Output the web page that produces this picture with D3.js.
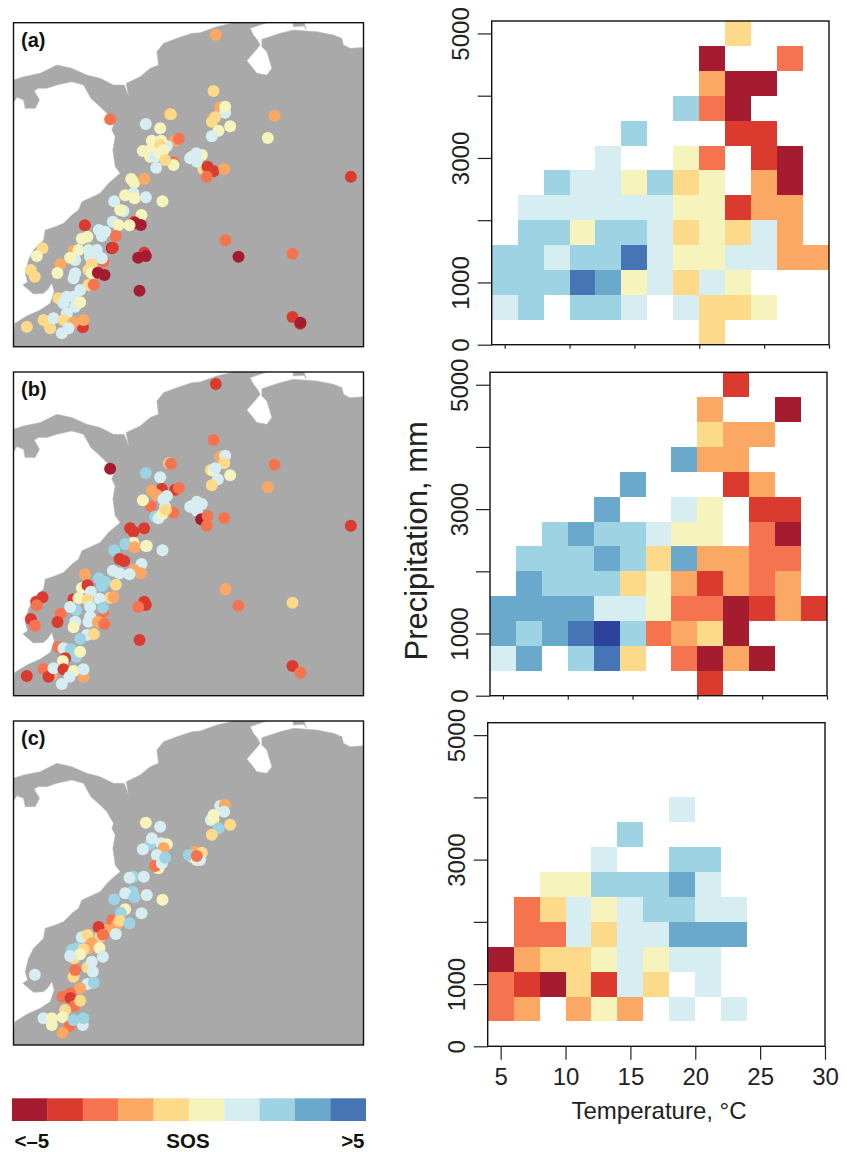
<!DOCTYPE html>
<html><head><meta charset="utf-8">
<script src="https://cdn.jsdelivr.net/npm/d3@7"></script>
<style>html,body{margin:0;padding:0;background:#fff}svg{display:block}text{font-family:"Liberation Sans",Arial,sans-serif;fill:#111}</style>
</head><body><svg id="c" width="847" height="1152"></svg>
<script>
// SOS classes, from earliest (<-5) to latest (>5); class 10 is the extra dark blue cell
const classColors=["#a51c30","#db3a2f","#f5744f","#fba864","#fdd98a","#f6f3bc","#d6eef2","#9dd3e3","#6aa8cc","#4575b4","#2c429c"];
const legendClasses=[0,1,2,3,4,5,6,7,8,9];
const tempEdges=[4,6,8,10,12,14,16,18,20,22,24,26,28,30];
const precipEdges=[0,400,800,1200,1600,2000,2400,2800,3200,3600,4000,4400,4800,5200];
const tempTicks=[5,10,15,20,25,30];
const precipTicks=[0,1000,2000,3000,4000,5000];
const precipLabels=[0,1000,3000,5000];
const _=null;
// rows run from lowest precipitation bin upward; columns from coolest bin rightward
const gridA=[
[_,_,_,_,_,_,_,_,4,_,_,_,_],
[6,7,_,7,7,6,_,6,4,4,5,_,_],
[7,7,7,9,8,5,6,4,6,5,_,_,_],
[7,7,6,7,7,9,6,5,5,6,6,3,3],
[_,7,7,5,7,7,6,4,5,4,6,3,_],
[_,6,6,6,6,6,6,5,5,1,3,3,_],
[_,_,7,6,6,5,7,4,5,_,3,0,_],
[_,_,_,_,6,_,_,5,2,_,1,0,_],
[_,_,_,_,_,7,_,_,_,1,1,_,_],
[_,_,_,_,_,_,_,7,2,0,_,_,_],
[_,_,_,_,_,_,_,_,3,0,0,_,_],
[_,_,_,_,_,_,_,_,0,_,_,2,_],
[_,_,_,_,_,_,_,_,_,4,_,_,_]];
const gridB=[
[_,_,_,_,_,_,_,_,1,_,_,_,_],
[6,8,_,7,9,4,_,2,0,3,0,_,_],
[8,7,8,9,10,7,2,3,4,0,_,_,_],
[8,8,8,8,6,6,5,2,2,0,1,3,1],
[_,8,7,7,7,4,5,3,1,3,2,3,_],
[_,7,7,7,8,7,4,8,3,3,2,2,_],
[_,_,7,8,7,7,6,5,5,_,2,0,_],
[_,_,_,_,8,_,_,6,5,_,1,1,_],
[_,_,_,_,_,8,_,_,_,1,3,_,_],
[_,_,_,_,_,_,_,8,3,3,_,_,_],
[_,_,_,_,_,_,_,_,4,3,3,_,_],
[_,_,_,_,_,_,_,_,3,_,_,0,_],
[_,_,_,_,_,_,_,_,_,1,_,_,_]];
const gridC=[
[_,_,_,_,_,_,_,_,_,_,_,_,_],
[2,3,_,3,5,3,_,6,_,6,_,_,_],
[2,1,0,4,1,6,4,_,6,_,_,_,_],
[0,3,4,4,5,6,5,6,6,_,_,_,_],
[_,2,2,6,4,6,6,8,8,8,_,_,_],
[_,2,4,6,5,6,7,7,6,6,_,_,_],
[_,_,5,5,7,7,7,8,6,_,_,_,_],
[_,_,_,_,6,_,_,7,7,_,_,_,_],
[_,_,_,_,_,7,_,_,_,_,_,_,_],
[_,_,_,_,_,_,_,6,_,_,_,_,_],
[_,_,_,_,_,_,_,_,_,_,_,_,_],
[_,_,_,_,_,_,_,_,_,_,_,_,_],
[_,_,_,_,_,_,_,_,_,_,_,_,_]];
// map positions are in map grid units; each record is [east, south, SOS class]
const landOutline=[[40,1012],[40,985],[44,940],[80,918],[120,900],[150,880],[162,845],[155,820],[143,838],[130,850],[100,852],[68,825],[82,815],[75,790],[85,750],[100,720],[130,690],[135,660],[165,650],[190,640],[215,615],[235,600],[245,575],[300,550],[325,520],[360,490],[345,470],[338,420],[345,380],[335,360],[340,345],[320,310],[300,290],[272,265],[250,225],[215,215],[170,225],[140,235],[115,235],[102,242],[118,270],[105,295],[75,295],[70,270],[50,262],[42,275],[40,210],[70,200],[120,190],[170,165],[215,175],[260,195],[300,205],[340,225],[372,225],[385,258],[378,220],[420,200],[450,175],[475,165],[470,125],[490,100],[530,85],[575,70],[600,68],[650,50],[700,38],[800,38],[750,55],[760,75],[772,90],[780,105],[772,115],[740,152],[755,170],[770,190],[800,195],[815,175],[800,125],[785,110],[785,88],[840,70],[880,60],[950,65],[1000,75],[1025,85],[1030,105],[1050,115],[1092,112],[1092,1012]];
const landIslet=[[878,38],[880,50],[912,48],[918,58],[912,38]];
const pointsA=[[647,74,3],[640,243,4],[508,312,3],[512,313,4],[330,328,2],[437,342,6],[480,355,5],[823,317,3],[803,384,5],[1052,500,1],[660,292,3],[675,308,6],[675,290,5],[640,325,3],[635,335,4],[645,322,4],[655,362,5],[690,349,5],[635,379,6],[525,392,3],[536,386,2],[500,408,6],[455,392,5],[483,392,5],[428,423,5],[480,405,4],[450,420,5],[450,440,5],[520,457,2],[520,465,5],[465,440,6],[468,473,6],[480,430,5],[490,420,5],[495,450,4],[575,440,5],[605,435,5],[610,478,4],[588,430,6],[570,445,6],[590,455,6],[622,470,1],[640,484,1],[620,500,2],[672,477,3],[393,507,5],[402,518,5],[432,507,3],[400,550,6],[375,556,5],[403,565,5],[437,562,6],[487,574,5],[342,574,6],[370,603,6],[360,600,5],[424,615,5],[402,636,1],[405,640,0],[422,645,0],[338,635,6],[355,645,5],[388,646,5],[254,646,1],[296,660,6],[315,665,6],[305,678,6],[347,678,2],[262,680,5],[245,686,5],[335,714,0],[338,713,1],[127,715,4],[110,738,5],[220,722,3],[235,720,5],[265,720,6],[290,720,6],[225,750,6],[210,743,5],[270,740,6],[310,755,2],[305,745,6],[432,728,1],[437,738,0],[414,743,0],[676,691,2],[715,740,0],[877,731,2],[181,763,3],[172,789,5],[92,780,4],[104,800,4],[275,762,4],[265,780,4],[275,790,5],[225,790,6],[220,805,6],[293,788,0],[313,795,0],[265,825,4],[281,824,2],[240,840,6],[418,842,0],[175,865,4],[200,860,6],[220,860,6],[190,880,6],[225,890,6],[240,877,5],[200,910,6],[130,930,4],[145,940,4],[150,955,4],[80,950,4],[160,925,6],[190,930,4],[248,952,1],[220,937,3],[250,930,3],[205,955,6],[185,970,6],[877,921,1],[900,941,1],[901,938,0]];
const pointsB=[[647,72,1],[640,240,2],[507,310,4],[512,311,2],[330,326,0],[437,339,7],[480,352,6],[823,314,2],[803,381,3],[1052,497,1],[660,290,3],[675,287,6],[672,310,4],[632,330,4],[640,332,5],[645,325,6],[653,358,6],[690,346,5],[635,376,4],[525,389,1],[536,384,2],[485,387,1],[455,392,3],[470,405,3],[452,438,2],[500,408,6],[428,421,5],[490,418,6],[465,470,7],[475,475,6],[520,458,2],[495,440,6],[487,462,5],[497,449,4],[575,438,6],[590,425,6],[605,432,6],[570,440,6],[590,452,6],[603,478,0],[622,468,2],[620,497,2],[672,474,2],[390,505,1],[400,515,1],[432,505,1],[400,548,5],[375,552,7],[403,562,3],[437,558,6],[440,558,5],[487,571,6],[342,571,7],[358,597,1],[372,603,1],[424,612,6],[402,630,3],[422,640,3],[338,632,6],[358,640,6],[388,643,6],[254,643,3],[296,655,7],[315,665,7],[305,678,7],[347,674,4],[245,684,5],[262,676,1],[330,713,4],[340,711,3],[108,725,1],[127,712,1],[110,736,2],[220,718,1],[235,715,5],[272,695,6],[262,720,4],[298,716,6],[228,750,7],[210,741,6],[270,740,6],[310,755,2],[308,743,7],[432,725,1],[437,735,1],[414,741,2],[676,688,3],[715,737,2],[877,728,4],[181,761,2],[172,786,1],[92,777,1],[104,797,2],[270,770,6],[265,785,6],[225,785,6],[220,802,5],[293,786,3],[313,792,2],[260,825,6],[281,822,4],[240,836,7],[418,840,1],[175,862,2],[190,865,6],[212,868,7],[228,890,7],[240,875,5],[195,895,1],[188,903,5],[130,927,2],[155,945,3],[145,950,1],[80,948,1],[160,925,6],[190,928,1],[250,950,3],[220,933,5],[250,928,6],[208,950,6],[185,972,6],[877,918,1],[901,938,2]];
const pointsC=[[437,338,5],[480,350,6],[660,288,6],[674,284,3],[672,305,6],[640,315,5],[632,330,6],[640,328,5],[655,355,7],[690,344,4],[635,374,4],[450,402,7],[455,385,6],[483,400,6],[500,403,5],[428,418,6],[490,414,3],[470,435,6],[475,475,5],[465,468,2],[485,460,6],[495,443,7],[585,425,3],[605,428,4],[575,440,6],[566,435,7],[590,450,5],[600,450,6],[590,438,2],[400,500,7],[388,503,6],[431,500,6],[397,545,7],[375,550,6],[403,562,7],[438,555,3],[440,555,6],[487,569,5],[342,568,7],[375,598,5],[362,608,7],[424,610,6],[336,631,2],[350,645,3],[358,632,4],[388,640,7],[320,660,3],[300,680,4],[295,651,1],[308,674,2],[347,672,6],[245,682,6],[262,675,4],[275,700,3],[215,720,7],[230,715,7],[265,715,3],[250,718,4],[298,714,5],[222,745,4],[240,733,5],[210,738,6],[308,740,6],[262,772,4],[275,755,6],[278,785,6],[220,800,4],[225,780,2],[262,822,6],[281,818,7],[240,835,3],[210,850,2],[187,860,2],[211,864,1],[222,888,2],[240,872,4],[195,900,4],[130,925,6],[155,925,5],[155,945,5],[188,922,5],[208,948,2],[248,945,6],[220,930,7],[250,925,7],[187,968,3],[104,794,6]];

const panelNames=["(a)","(b)","(c)"];
const panelPoints=[pointsA,pointsB,pointsC];
const panelGrids=[gridA,gridB,gridC];
const mapFrames=[{x0:13.5,x1:363.5,y0:22.7,y1:346.7,d0:38,d1:1010},{x0:13.5,x1:363.5,y0:372,y1:695.7,d0:36,d1:1007},{x0:13.5,x1:363.5,y0:721,y1:1045,d0:33,d1:1005}];
const plotFrames=[{x0:491.7,x1:829,y0:21,y1:344.7,tick:4},{x0:490,x1:827,y0:372.3,y1:695.7,tick:4},{x0:487.7,x1:825,y0:722.7,y1:1046.3,tick:13.5}];

const svg=d3.select("#c");
const color=d3.scaleOrdinal(d3.range(classColors.length),classColors);
const defs=svg.append("defs");

mapFrames.forEach((f,i)=>{
  const g=svg.append("g");
  defs.append("clipPath").attr("id","mc"+i).append("rect").attr("x",f.x0).attr("y",f.y0).attr("width",f.x1-f.x0).attr("height",f.y1-f.y0);
  const inner=g.append("g").attr("clip-path",`url(#mc${i})`);
  const x=d3.scaleLinear().domain([40,1090]).range([f.x0,f.x1]);
  const yLand=d3.scaleLinear().domain([38,1010]).range([f.y0,f.y1]);
  const yPts=d3.scaleLinear().domain([f.d0,f.d1]).range([f.y0,f.y1]);
  const line=d3.line().x(d=>x(d[0])).y(d=>yLand(d[1])).curve(d3.curveLinearClosed);
  inner.selectAll("path.land").data([landOutline,landIslet]).join("path").attr("class","land").attr("d",line).attr("fill","#a9a9a9").attr("stroke","#bcbcbc").attr("stroke-width",0.6);
  inner.selectAll("circle").data(panelPoints[i]).join("circle").attr("cx",d=>x(d[0])).attr("cy",d=>yPts(d[1])).attr("r",6).attr("fill",d=>color(d[2]));
  g.append("rect").attr("x",f.x0).attr("y",f.y0).attr("width",f.x1-f.x0).attr("height",f.y1-f.y0).attr("fill","none").attr("stroke","#111").attr("stroke-width",1.4);
  g.append("text").attr("x",f.x0+7.5).attr("y",f.y0+24).attr("font-size",20).attr("font-weight","bold").text(panelNames[i]);
});

plotFrames.forEach((f,i)=>{
  const x=d3.scaleLinear().domain([4,30]).range([f.x0,f.x1]);
  const y=d3.scaleLinear().domain([0,5200]).range([f.y1,f.y0]);
  const g=svg.append("g");
  panelGrids[i].forEach((row,r)=>{
    g.append("g").selectAll("rect").data(row.map((v,c)=>({v,c})).filter(d=>d.v!==null)).join("rect")
      .attr("x",d=>x(tempEdges[d.c])).attr("width",d=>x(tempEdges[d.c+1])-x(tempEdges[d.c]))
      .attr("y",y(precipEdges[r+1])).attr("height",y(precipEdges[r])-y(precipEdges[r+1]))
      .attr("fill",d=>color(d.v)).attr("shape-rendering","crispEdges");
  });
  g.append("rect").attr("x",f.x0).attr("y",f.y0).attr("width",f.x1-f.x0).attr("height",f.y1-f.y0).attr("fill","none").attr("stroke","#111").attr("stroke-width",1.4);
  const ya=g.append("g").attr("transform",`translate(${f.x0},0)`)
    .call(d3.axisLeft(y).tickValues(precipTicks).tickSize(14).tickSizeOuter(0).tickFormat(d=>precipLabels.includes(d)?String(d):""));
  ya.select(".domain").remove();
  ya.selectAll("line").attr("stroke","#222").attr("stroke-width",1.2);
  ya.selectAll("text").attr("x",0).attr("dy",0).attr("text-anchor","middle").attr("transform","translate(-22.5,0) rotate(-90)").attr("font-size",24).style("fill","#222");
  const xa=g.append("g").attr("transform",`translate(0,${f.y1})`)
    .call(d3.axisBottom(x).tickValues(tempTicks).tickSize(f.tick).tickSizeOuter(0).tickFormat(i===2?d3.format("d"):""));
  xa.select(".domain").remove();
  xa.selectAll("line").attr("stroke","#222").attr("stroke-width",1.2);
  xa.selectAll("text").attr("y",38.7).attr("dy",0).attr("font-size",24).style("fill","#222");
  ya.attr("font-family",null);xa.attr("font-family",null);
});

svg.append("text").attr("x",659).attr("y",1119).attr("text-anchor","middle").attr("font-size",24).style("fill","#222").text("Temperature, °C");
svg.append("text").attr("transform","translate(427,540.8) rotate(-90)").attr("text-anchor","middle").attr("font-size",31).style("fill","#222").text("Precipitation, mm");

const lx=d3.scaleBand().domain(legendClasses).range([12,365.7]);
svg.append("g").selectAll("rect").data(legendClasses).join("rect").attr("x",d=>lx(d)).attr("y",1098.3).attr("width",lx.bandwidth()+0.3).attr("height",22.7).attr("fill",d=>color(d));
const legendText=[["<–5",14.5,"start"],["SOS",188,"middle"],[">5",364.5,"end"]];
svg.append("g").selectAll("text").data(legendText).join("text").attr("x",d=>d[1]).attr("y",1148).attr("text-anchor",d=>d[2]).attr("font-size",20.5).attr("font-weight","bold").text(d=>d[0]);
</script></body></html>
